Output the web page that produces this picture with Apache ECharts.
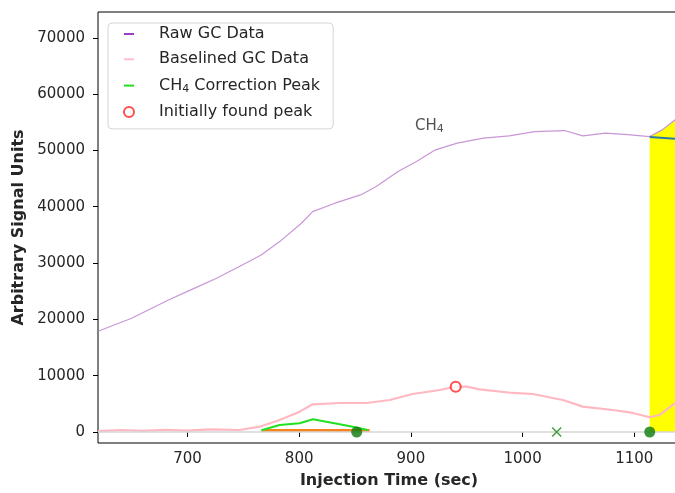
<!DOCTYPE html>
<html>
<head>
<meta charset="utf-8">
<script src="https://cdn.jsdelivr.net/npm/echarts@6/dist/echarts.min.js"></script>
<style>
  html, body { margin: 0; padding: 0; background: #fff; }
  #chart { width: 675px; height: 493px; }
</style>
</head>
<body>
<div id="chart"></div>
<script>
// values
const rawTime = [620.5, 650, 683, 703, 726, 749, 766, 782.5, 802, 812, 832, 855, 869, 888.5, 905, 922, 941.5, 965, 988, 1011, 1037.5, 1054, 1074, 1094, 1113.8, 1125, 1136.5, 1141]
const rawSignal = [17940, 20200, 23450, 25230, 27300, 29670, 31440, 33810, 37070, 39140, 40630, 42100, 43580, 46240, 48020, 50100, 51290, 52180, 52580, 53350, 53530, 52580, 53060, 52820, 52460, 53650, 55430, 56000]

const baseTime = [620, 640, 660, 680, 700, 720, 746.7, 764.6, 782.5, 800.4, 812.1, 836.3, 860.4, 881, 901.6, 925.8, 940.1, 950, 961.6, 991.2, 1009.1, 1036, 1053.9, 1080.7, 1098.6, 1113.8, 1122.7, 1136.5]
const baseSignal = [150, 350, 200, 400, 250, 450, 350, 940, 2130, 3610, 4920, 5150, 5150, 5680, 6750, 7460, 8050, 8050, 7580, 6930, 6750, 5680, 4500, 3910, 3380, 2610, 3020, 5150]

const peakTime = [766.2, 782.5, 800.4, 812.3, 824.3, 836.3, 847.9, 861.3]
const peakSignal = [300, 1240, 1550, 2260, 1830, 1370, 940, 355]

const peakBaseTime = [766.4, 863.1]
const peakBaseSignal = [250, 250]

const foundPeak = [940.1, 8050]
const boundDots = [[851.5, 0], [1113.8, 0]]
const crossMark = [1030.5, 0]

const fillStart = 1113.8
const tealTime = [1113.8, 1141]
const tealSignal = [52400, 52020]

const ch4Label = [916.5, 54350]

const xTicks = [700, 800, 900, 1000, 1100]
const yTicks = [0, 10000, 20000, 30000, 40000, 50000, 60000, 70000]

const pairs = (xs, ys) => xs.map((x, i) => [x, ys[i]])

const rawData = pairs(rawTime, rawSignal)
const fillData = rawData.filter(p => p[0] >= fillStart)

const font = 'DejaVu Sans'
const ink = '#262626'
const bar = 'path://M0,4 L10,4 L10,6 L0,6 Z'

const chart = echarts.init(document.getElementById('chart'))

chart.setOption({
  animation: false,
  textStyle: { fontFamily: font },
  grid: {
    left: 98, width: 582, top: 12, bottom: 50,
    outerBoundsMode: 'none',
    show: true, borderColor: '#000', borderWidth: 1, backgroundColor: 'transparent'
  },
  legend: {
    orient: 'vertical',
    left: 108, top: 23,
    padding: [3, 13, 9, 15],
    itemWidth: 10, itemHeight: 10, itemGap: 9.3,
    backgroundColor: 'rgba(255,255,255,0.85)',
    borderColor: '#d4d4d4', borderWidth: 1, borderRadius: 4,
    selectedMode: false,
    textStyle: {
      fontFamily: font, fontSize: 16, color: ink, padding: [0, 0, 0, 20],
      rich: {
        t: { fontFamily: font, fontSize: 16, color: ink, lineHeight: 16 },
        s: { fontFamily: font, fontSize: 11, color: ink, lineHeight: 16, padding: [7, 0, 0, 0] }
      }
    },
    formatter: name => name === 'CH4 Correction Peak'
      ? '{t|CH}{s|4}{t| Correction Peak}'
      : '{t|' + name + '}',
    data: [
      { name: 'Raw GC Data', icon: bar, itemStyle: { color: '#9b3dc8' } },
      { name: 'Baselined GC Data', icon: bar, itemStyle: { color: '#ffc0cb' } },
      { name: 'CH4 Correction Peak', icon: bar, itemStyle: { color: '#22dd22' } },
      { name: 'Initially found peak' }
    ]
  },
  xAxis: {
    type: 'value',
    min: 619.9, max: 1140.9,
    name: 'Injection Time (sec)',
    nameLocation: 'middle', nameGap: 30,
    nameTextStyle: { fontFamily: font, fontSize: 16, fontWeight: 'bold', color: ink },
    axisLine: { show: false },
    axisTick: { show: true, length: 5, lineStyle: { color: '#000' }, customValues: xTicks },
    axisLabel: { fontFamily: font, fontSize: 15, color: ink, margin: 9, customValues: xTicks, formatter: v => String(v) },
    splitLine: { show: false }
  },
  yAxis: {
    type: 'value',
    min: -1954, max: 74580,
    name: 'Arbitrary Signal Units',
    nameLocation: 'middle', nameGap: 70,
    nameTextStyle: { fontFamily: font, fontSize: 16, fontWeight: 'bold', color: ink },
    axisLine: { show: false },
    axisTick: { show: true, length: 5, lineStyle: { color: '#000' }, customValues: yTicks },
    axisLabel: { fontFamily: font, fontSize: 15, color: ink, margin: 13, customValues: yTicks, formatter: v => String(v) },
    splitLine: { show: false }
  },
  series: [
    {
      name: 'zero',
      type: 'line',
      data: [],
      silent: true,
      markLine: {
        silent: true, symbol: 'none', label: { show: false },
        lineStyle: { color: '#d6d6d6', width: 1.5, type: 'solid' },
        data: [{ yAxis: 0 }]
      },
      z: 1
    },
    {
      name: 'fill',
      type: 'line',
      data: fillData,
      showSymbol: false, symbol: 'none',
      lineStyle: { width: 0 },
      areaStyle: { color: '#ffff00', opacity: 1 },
      z: 2
    },
    {
      name: 'Raw GC Data',
      type: 'line',
      data: rawData,
      showSymbol: false, symbol: 'none',
      color: '#9b3dc8',
      lineStyle: { color: '#c996d6', width: 1.2 },
      z: 3
    },
    {
      name: 'Baselined GC Data',
      type: 'line',
      data: pairs(baseTime, baseSignal),
      showSymbol: false, symbol: 'none',
      color: '#ffc0cb',
      lineStyle: { color: '#ffb8c2', width: 2.2 },
      z: 3
    },
    {
      name: 'baseline',
      type: 'line',
      data: pairs(tealTime, tealSignal),
      showSymbol: false, symbol: 'none',
      lineStyle: { color: '#2a7ba8', width: 2 },
      z: 4
    },
    {
      name: 'peak base',
      type: 'line',
      data: pairs(peakBaseTime, peakBaseSignal),
      showSymbol: false, symbol: 'none',
      lineStyle: { color: '#f5841f', width: 3 },
      z: 4
    },
    {
      name: 'CH4 Correction Peak',
      type: 'line',
      data: pairs(peakTime, peakSignal),
      showSymbol: false, symbol: 'none',
      color: '#22dd22',
      lineStyle: { color: '#22e022', width: 2 },
      z: 5
    },
    {
      name: 'bounds',
      type: 'scatter',
      data: boundDots,
      symbol: 'circle', symbolSize: 11,
      itemStyle: { color: '#0b7a0b' },
      z: 6
    },
    {
      name: 'cross',
      type: 'scatter',
      data: [crossMark],
      symbol: 'path://M0,0 L10,10 M10,0 L0,10',
      symbolSize: 9,
      itemStyle: { color: 'transparent', borderColor: '#1a8a1a', borderWidth: 1.6 },
      z: 6
    },
    {
      name: 'Initially found peak',
      type: 'scatter',
      data: [foundPeak],
      symbol: 'emptyCircle', symbolSize: 10,
      itemStyle: { color: '#ff2222', borderColor: '#ff2222', borderWidth: 1.5 },
      z: 7
    },
    {
      name: 'label',
      type: 'scatter',
      data: [ch4Label],
      symbolSize: 0,
      silent: true,
      label: {
        show: true, position: 'inside',
        formatter: '{a|CH}{s|4}',
        rich: {
          a: { fontFamily: font, fontSize: 15, color: ink, lineHeight: 16 },
          s: { fontFamily: font, fontSize: 11, color: ink, lineHeight: 16, padding: [7, 0, 0, 0] }
        }
      },
      z: 8
    }
  ]
})
</script>
</body>
</html>
